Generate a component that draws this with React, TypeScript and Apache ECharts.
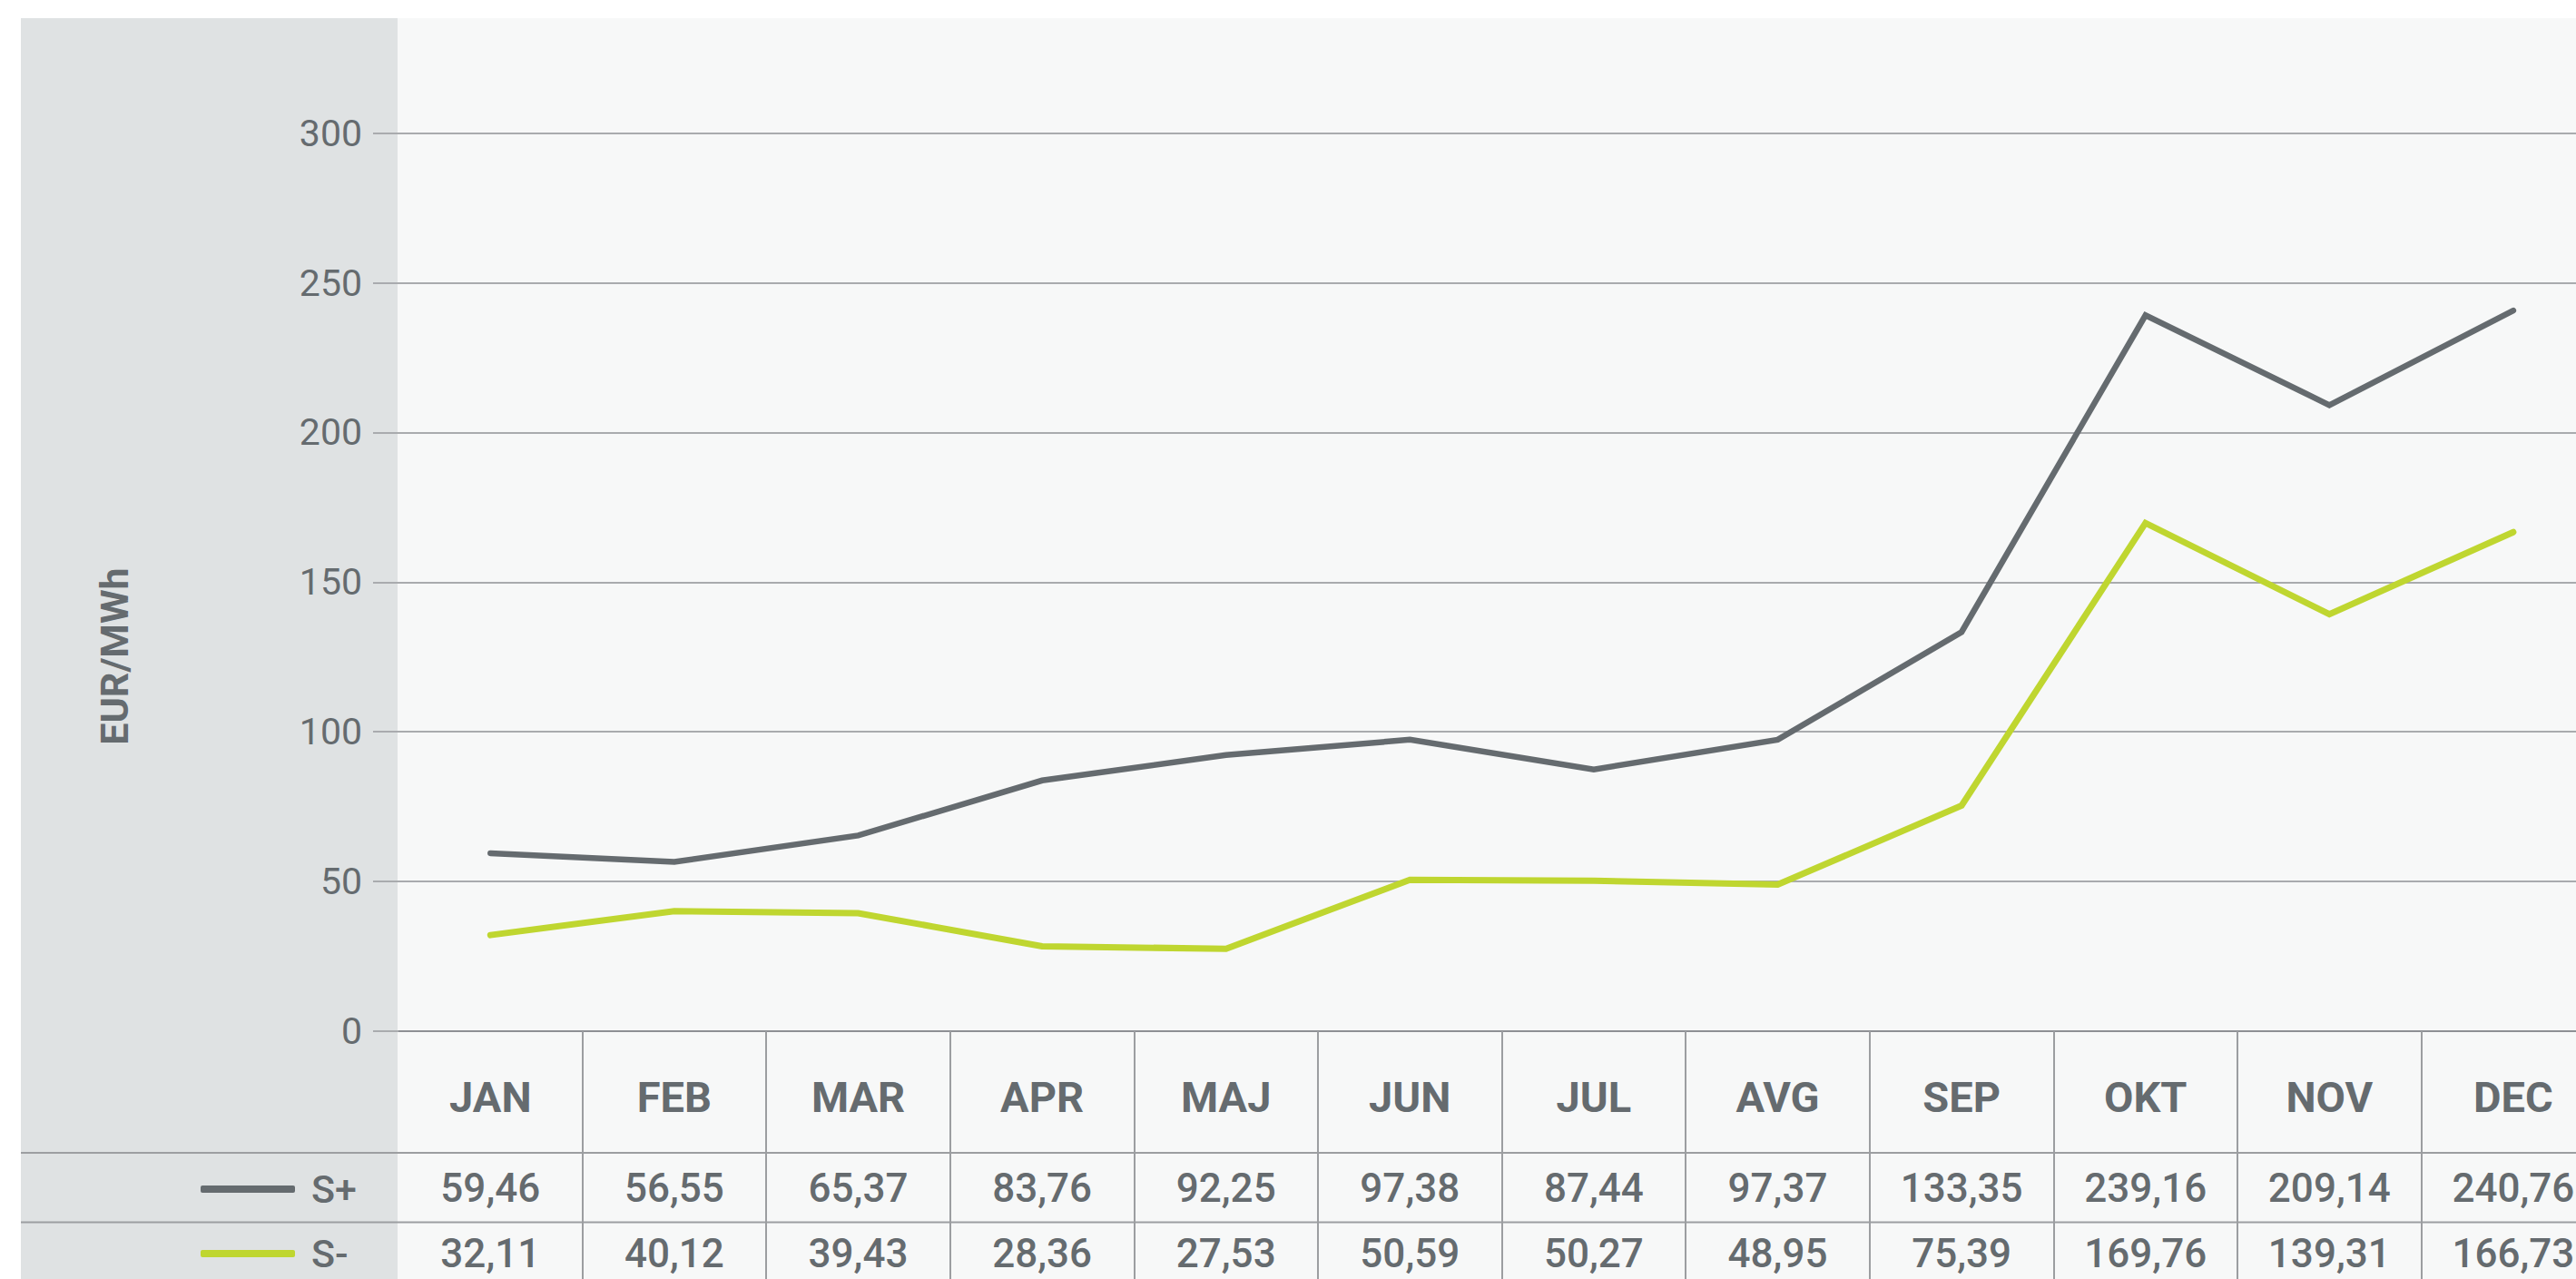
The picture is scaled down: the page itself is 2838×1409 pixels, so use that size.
import React, { useEffect, useRef } from "react";
import * as echarts from "echarts";

const months = ["JAN", "FEB", "MAR", "APR", "MAJ", "JUN", "JUL", "AVG", "SEP", "OKT", "NOV", "DEC"];
const sPlus = [59.46, 56.55, 65.37, 83.76, 92.25, 97.38, 87.44, 97.37, 133.35, 239.16, 209.14, 240.76];
const sMinus = [32.11, 40.12, 39.43, 28.36, 27.53, 50.59, 50.27, 48.95, 75.39, 169.76, 139.31, 166.73];
const seriesNames = ["S+", "S-"];
const yTicks = [0, 50, 100, 150, 200, 250, 300];
const unitLabel = "EUR/MWh";

const W = 2838;
const H = 1409;
const CW = 2880;
const TEXT = "#656b6f";
const GRAY_LINE = "#656b6f";
const GREEN_LINE = "#bfd630";
const GRID_C = "#a9abae";
const FONT = "Roboto, 'Noto Sans', sans-serif";

const fmt = (v: number) => v.toFixed(2).replace(".", ",");

export default function App() {
  const ref = useRef<HTMLDivElement>(null);
  useEffect(() => {
    document.body.style.margin = "0";
    document.body.style.overflow = "hidden";
    const chart = echarts.init(ref.current!, null, { renderer: "svg", width: CW, height: H });
    const gridLeft = 439;
    const gridTop = 146.7;
    const zeroY = 1136;
    const gridWidth = 202.6 * 12;
    const catAxisBase = {
      type: "category" as const,
      gridIndex: 0,
      position: "bottom" as const,
      boundaryGap: true,
      axisLine: { show: false },
      splitLine: { show: false },
      axisTick: { show: false },
    };
    const valueLabel = { verticalAlign: "middle", color: TEXT, fontSize: 44, fontWeight: 500, fontFamily: FONT, interval: 0 };
    chart.setOption({
      animation: false,
      backgroundColor: "#ffffff",
      textStyle: { fontFamily: FONT },
      graphic: [
        { type: "rect", z: -10, shape: { x: 23, y: 20, width: 415, height: H - 20 }, style: { fill: "#dfe2e3" } },
        { type: "rect", z: -10, shape: { x: 438, y: 20, width: CW - 438, height: H - 20 }, style: { fill: "#f7f8f8" } },
        { type: "line", z: 5, shape: { x1: 23, y1: 1270, x2: CW, y2: 1270 }, style: { stroke: "#9c9ea1", lineWidth: 2 } },
        { type: "line", z: 5, shape: { x1: 23, y1: 1346.5, x2: CW, y2: 1346.5 }, style: { stroke: "#9c9ea1", lineWidth: 2 } },
        {
          type: "text",
          x: 126,
          y: 723,
          rotation: Math.PI / 2,
          style: {
            text: unitLabel,
            fill: TEXT,
            font: `bold 43px ${FONT}`,
            align: "center",
            verticalAlign: "middle",
          },
        },
      ],
      legend: {
        orient: "vertical",
        left: 221,
        top: 1287,
        padding: 0,
        itemWidth: 104,
        itemHeight: 8,
        itemGap: 25,
        icon: "roundRect",
        data: seriesNames,
        textStyle: { color: TEXT, fontSize: 43, fontWeight: 500, fontFamily: FONT, lineHeight: 46, padding: [0, 0, 0, 13] },
      },
      grid: { left: gridLeft, top: gridTop, width: gridWidth, height: zeroY - gridTop, containLabel: false },
      xAxis: [
        {
          ...catAxisBase,
          data: months,
          axisLine: { show: true, lineStyle: { color: "#8e9094", width: 2 } },
          axisTick: {
            show: true,
            length: 300,
            interval: (i: number) => i !== 0,
            lineStyle: { color: "#9c9ea1", width: 2 },
          },
          axisLabel: {
            margin: 72,
            verticalAlign: "middle",
            color: TEXT,
            fontSize: 47,
            fontWeight: "bold",
            fontFamily: FONT,
            interval: 0,
          },
        },
        {
          ...catAxisBase,
          data: sPlus.map(fmt),
          axisLabel: { ...valueLabel, margin: 173 },
        },
        {
          ...catAxisBase,
          data: sMinus.map(fmt),
          axisLabel: { ...valueLabel, margin: 245 },
        },
      ],
      yAxis: {
        type: "value",
        min: yTicks[0],
        max: yTicks[yTicks.length - 1],
        interval: 50,
        axisLine: { show: false },
        axisTick: { show: true, length: 28, lineStyle: { color: GRID_C, width: 2 } },
        splitLine: { show: true, lineStyle: { color: GRID_C, width: 2 } },
        axisLabel: { margin: 40, color: TEXT, fontSize: 41, fontFamily: FONT },
      },
      series: [
        {
          name: seriesNames[0],
          type: "line",
          data: sPlus,
          symbol: "none",
          color: GRAY_LINE,
          lineStyle: { color: GRAY_LINE, width: 6.5, cap: "round", join: "miter" },
          z: 3,
        },
        {
          name: seriesNames[1],
          type: "line",
          data: sMinus,
          symbol: "none",
          color: GREEN_LINE,
          lineStyle: { color: GREEN_LINE, width: 7, cap: "round", join: "miter" },
          z: 3,
        },
      ],
    });
    return () => chart.dispose();
  }, []);
  return (
    <div style={{ position: "absolute", left: 0, top: 0, width: W, height: H, overflow: "hidden" }}>
      <div ref={ref} style={{ width: CW, height: H }} />
    </div>
  );
}
